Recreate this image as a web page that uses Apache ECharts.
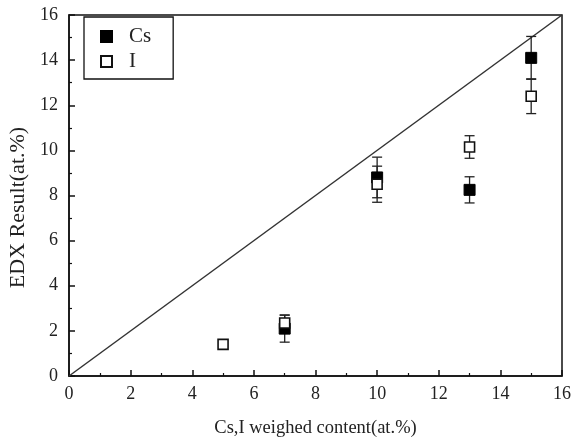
<!DOCTYPE html>
<html><head><meta charset="utf-8">
<script src="https://cdn.jsdelivr.net/npm/echarts@6/dist/echarts.min.js"></script>
<style>html,body{margin:0;padding:0;background:#fff}#c{width:575px;height:446px}</style>
</head><body><div id="c"></div>
<script>
const xTicks = [0, 2, 4, 6, 8, 10, 12, 14, 16];
const yTicks = [0, 2, 4, 6, 8, 10, 12, 14, 16];
const csX = [7, 10, 13, 15];
const csY = [2.1, 8.8, 8.25, 14.1];
const csErr = [0.6, 0.9, 0.58, 0.95];
const iX = [5, 7, 10, 13, 15];
const iY = [1.4, 2.35, 8.5, 10.15, 12.4];
const iErr = [0, 0.35, 0.8, 0.5, 0.77];
const refX = [0, 16];
const refY = [0, 16];

const font = '"Liberation Serif","Times New Roman",serif';
const chart = echarts.init(document.getElementById('c'));

function errSeries(xs, ys, es) {
  return {
    type: 'custom', silent: true, z: 3,
    data: xs.map((x, k) => [x, ys[k], es[k]]),
    renderItem: function (params, api) {
      const x = api.value(0), y = api.value(1), e = api.value(2);
      if (!e) return null;
      const top = api.coord([x, y + e]);
      const bot = api.coord([x, y - e]);
      const w = 5;
      const st = { stroke: '#222', lineWidth: 1.3 };
      return {
        type: 'group',
        children: [
          { type: 'line', shape: { x1: top[0], y1: top[1], x2: bot[0], y2: bot[1] }, style: st },
          { type: 'line', shape: { x1: top[0] - w, y1: top[1], x2: top[0] + w, y2: top[1] }, style: st },
          { type: 'line', shape: { x1: bot[0] - w, y1: bot[1], x2: bot[0] + w, y2: bot[1] }, style: st }
        ]
      };
    }
  };
}

const axisCommon = {
  type: 'value', min: 0, max: 16, interval: 2,
  axisLine: { show: true, onZero: false, lineStyle: { color: '#111', width: 1.5 } },
  axisTick: { show: true, inside: true, length: 6, lineStyle: { color: '#111', width: 1.5 } },
  minorTick: { show: true, splitNumber: 2, length: 3, lineStyle: { color: '#111', width: 1.2 } },
  splitLine: { show: false },
  axisLabel: { color: '#222', fontFamily: font, fontSize: 18 },
  nameTextStyle: { color: '#222', fontFamily: font, fontSize: 18.5 },
  nameLocation: 'middle'
};

chart.setOption({
  animation: false,
  backgroundColor: '#fff',
  grid: { left: 69, right: 13, top: 15, bottom: 70, outerBoundsMode: 'none', containLabel: false,
    show: true, borderColor: '#111', borderWidth: 1.5, backgroundColor: 'transparent' },
  xAxis: Object.assign({}, axisCommon, {
    name: 'Cs,I weighed content(at.%)', nameGap: 43,
    axisLabel: Object.assign({}, axisCommon.axisLabel, { margin: 9, formatter: v => xTicks.includes(v) ? String(v) : '' })
  }),
  yAxis: Object.assign({}, axisCommon, {
    name: 'EDX Result(at.%)', nameGap: 36,
    nameTextStyle: { color: '#222', fontFamily: font, fontSize: 22, padding: [0, 24, 0, 0] },
    axisLabel: Object.assign({}, axisCommon.axisLabel, { margin: 11, formatter: v => yTicks.includes(v) ? String(v) : '' })
  }),
  legend: {
    orient: 'vertical', left: 84, top: 17,
    padding: [9, 22, 7, 16],
    itemGap: 4, itemWidth: 11, itemHeight: 11,
    borderColor: '#111', borderWidth: 1.3, borderRadius: 0,
    textStyle: { fontFamily: font, fontSize: 21, color: '#222', padding: [0, 0, 0, 12] },
    data: [{ name: 'Cs', icon: 'rect' }, { name: 'I', icon: 'rect' }]
  },
  series: [
    { type: 'line', name: 'ref', data: refX.map((x, k) => [x, refY[k]]), symbol: 'none', silent: true,
      lineStyle: { color: '#333', width: 1.5 }, z: 1 },
    errSeries(csX, csY, csErr),
    errSeries(iX, iY, iErr),
    { type: 'scatter', name: 'Cs', data: csX.map((x, k) => [x, csY[k]]), symbol: 'rect', symbolSize: 11,
      itemStyle: { color: '#000', borderColor: '#000', borderWidth: 1, opacity: 1 }, z: 4 },
    { type: 'scatter', name: 'I', data: iX.map((x, k) => [x, iY[k]]), symbol: 'rect', symbolSize: 10,
      itemStyle: { color: '#fff', borderColor: '#111', borderWidth: 1.6, opacity: 1 }, z: 5 }
  ]
});
</script></body></html>
